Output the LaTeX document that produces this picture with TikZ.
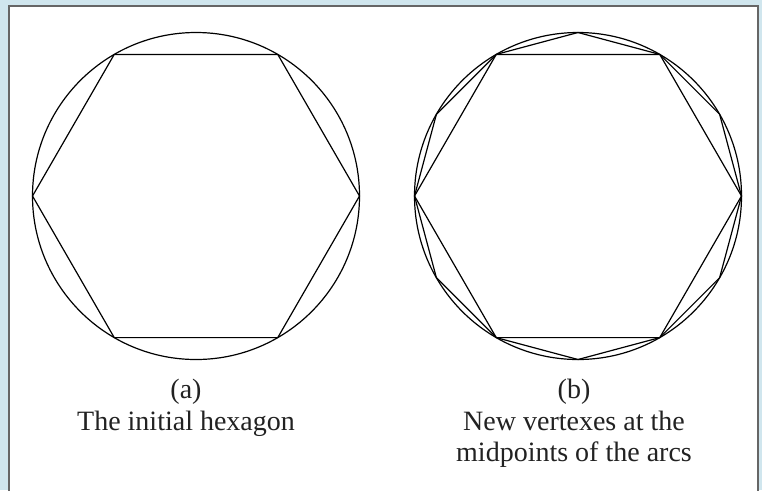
\documentclass[tikz,border=0pt]{standalone}
\usepackage{fontspec}
\setmainfont{Liberation Serif}
\usetikzlibrary{calc}
\definecolor{bgblue}{HTML}{D0E6EE}
\definecolor{panelborder}{HTML}{666666}
\definecolor{txt}{HTML}{222222}
\begin{document}
\begin{tikzpicture}[x=0.75pt,y=-0.75pt,
  geom/.style={line width=0.9pt, black},
  lbl/.style={anchor=base, inner sep=0pt, text=txt, font=\fontsize{21}{24}\selectfont}]
\useasboundingbox (0,0) rectangle (762,490);
\fill[bgblue] (0,0) rectangle (762,490);
\begin{scope}
\clip (0,0) rectangle (762,490);
\draw[panelborder, fill=white, line width=1.5pt] (9,6) rectangle (758,520);
\end{scope}
% (a)
\coordinate (ca) at (196,196);
\draw[geom] (ca) circle[radius=163.5];
\draw[geom] ($(ca)+(0:163.5)$)
  \foreach \a in {60,120,...,300} { -- ($(ca)+(\a:163.5)$) } -- cycle;
% (b)
\coordinate (cb) at (578,196);
\draw[geom] (cb) circle[radius=163.5];
\draw[geom] ($(cb)+(0:163.5)$)
  \foreach \a in {60,120,...,300} { -- ($(cb)+(\a:163.5)$) } -- cycle;
\draw[geom] ($(cb)+(0:163.5)$)
  \foreach \a in {30,60,...,330} { -- ($(cb)+(\a:163.5)$) } -- cycle;
% labels
\node[lbl] (la) at (186,398) {(a)};
\node[lbl] (ta) at (186,430) {The initial hexagon};
\node[lbl] (lb) at (574,398) {(b)};
\node[lbl] (tb1) at (574,430) {New vertexes at the};
\node[lbl] (tb2) at (574,461) {midpoints of the arcs};
\end{tikzpicture}
\end{document}
